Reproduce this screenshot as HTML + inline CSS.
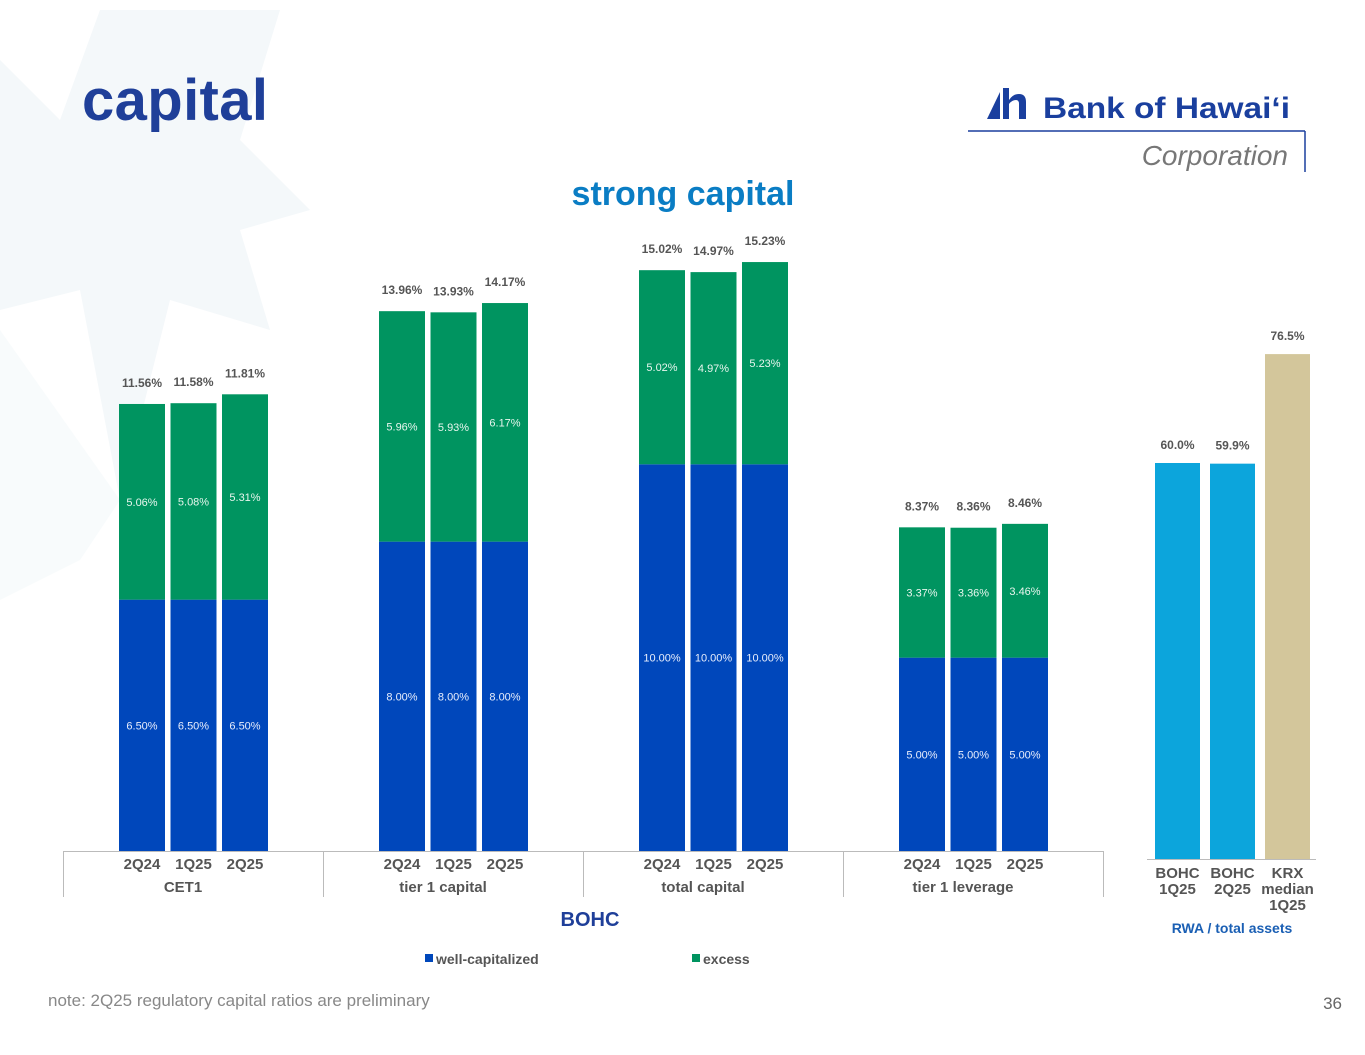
<!DOCTYPE html>
<html><head><meta charset="utf-8"><style>
body{margin:0;width:1365px;height:1055px;background:#fff;overflow:hidden;font-family:"Liberation Sans",Arial,sans-serif}
svg{position:absolute;left:0;top:0}
</style></head><body>
<svg width="1365" height="1055">
<g fill="#f4f8fa">
<polygon points="100,10 280,10 240,140 310,210 240,230 270,330 170,300 120,500 80,290 0,310 0,60 60,120"/>
<polygon points="0,330 120,500 80,560 0,600" opacity="0.6"/>
</g>
<text x="82" y="120" font-size="58" font-weight="bold" fill="#1f3f99" textLength="186">capital</text>
<g>
<polygon points="987,119 1000,92 1000,119" fill="#1a3f9e"/>
<path d="M1003,88 h6 v12 q4,-6 10,-6 q7,0 7,8 v17 h-7 v-15 q0,-4 -3,-4 q-4,0 -7,4 v15 h-6z" fill="#1a3f9e"/>
<text x="1043" y="118" font-size="30" font-weight="bold" fill="#1a3f9e" textLength="247" lengthAdjust="spacingAndGlyphs">Bank of Hawai‘i</text>
<line x1="968" y1="131" x2="1305" y2="131" stroke="#1a3f9e" stroke-width="1.5"/>
<line x1="1305" y1="131" x2="1305" y2="172" stroke="#1a3f9e" stroke-width="1.5"/>
<text x="1288" y="165" text-anchor="end" font-size="28" font-style="italic" fill="#777">Corporation</text>
</g>
<text x="683" y="205" text-anchor="middle" font-size="34" font-weight="bold" fill="#0a7dc4">strong capital</text>
<g id="main"></g>
<g id="rwa"></g>
<text x="590" y="926" text-anchor="middle" font-size="20" font-weight="bold" fill="#1f3f99">BOHC</text>
<g>
<rect x="425" y="954" width="8" height="8" fill="#0047bb"/>
<text x="436" y="964" font-size="14" font-weight="bold" fill="#555">well-capitalized</text>
<rect x="692" y="954" width="8" height="8" fill="#009460"/>
<text x="703" y="964" font-size="14" font-weight="bold" fill="#555">excess</text>
</g>
<text x="1232" y="933" text-anchor="middle" font-size="14" font-weight="bold" fill="#1a5fb4">RWA / total assets</text>
<text x="48" y="1006" font-size="17" fill="#888">note: 2Q25 regulatory capital ratios are preliminary</text>
<text x="1342" y="1009" text-anchor="end" font-size="17" fill="#666">36</text>
</svg>
<script>
const groups=["CET1","tier 1 capital","total capital","tier 1 leverage"];
const periods=["2Q24","1Q25","2Q25"];
const wellCap=[[6.50,6.50,6.50],[8.00,8.00,8.00],[10.00,10.00,10.00],[5.00,5.00,5.00]];
const excess=[[5.06,5.08,5.31],[5.96,5.93,6.17],[5.02,4.97,5.23],[3.37,3.36,3.46]];
const totals=[[11.56,11.58,11.81],[13.96,13.93,14.17],[15.02,14.97,15.23],[8.37,8.36,8.46]];
const rwaCats=[["BOHC","1Q25"],["BOHC","2Q25"],["KRX","median","1Q25"]];
const rwaVals=[60.0,59.9,76.5];
const NS="http://www.w3.org/2000/svg";
function mk(p,t,a,txt){const e=document.createElementNS(NS,t);for(const k in a)e.setAttribute(k,a[k]);if(txt!==undefined)e.textContent=txt;p.appendChild(e);return e;}
const main=document.getElementById('main');
const base=851,ppu=38.67;
const y=v=>base-v*ppu;
const gx=i=>63+i*260;
mk(main,'line',{x1:63,y1:851.5,x2:1103,y2:851.5,stroke:'#bbb'});
for(let i=0;i<=4;i++){const l=mk(main,'line',{x1:gx(i)+0.5,y1:851,x2:gx(i)+0.5,y2:897,stroke:'#bbb'});}
groups.forEach((g,gi)=>{
 const c=gx(gi)+130;
 const t=mk(main,'text',{x:c-10,y:892,'text-anchor':'middle','font-size':15,'font-weight':'bold',fill:'#555'},g);
 
 periods.forEach((p,pi)=>{
  const x=c-74+pi*51.5;
  const w=wellCap[gi][pi],e=excess[gi][pi],tot=totals[gi][pi];
  const b=mk(main,'rect',{x:x,y:y(w),width:46,height:w*ppu,fill:'#0047bb'});
  
  const r=mk(main,'rect',{x:x,y:y(w+e),width:46,height:e*ppu,fill:'#009460'});
  
  mk(main,'text',{x:x+23,y:y(w/2)+4,'text-anchor':'middle','font-size':11,fill:'#e8eefc'},w.toFixed(2)+'%');
  mk(main,'text',{x:x+23,y:y(w+e/2)+4,'text-anchor':'middle','font-size':11,fill:'#e8f6ee'},e.toFixed(2)+'%');
  const tl=mk(main,'text',{x:x+23,y:y(tot)-17,'text-anchor':'middle','font-size':12,'font-weight':'bold',fill:'#555'},tot.toFixed(2)+'%');
  
  const pl=mk(main,'text',{x:x+23,y:869,'text-anchor':'middle','font-size':15,'font-weight':'bold',fill:'#555'},p);
  
 });
});
const rwa=document.getElementById('rwa');
const rb=859,rp=6.6;
mk(rwa,'line',{x1:1147,y1:859.5,x2:1316,y2:859.5,stroke:'#bbb'});
rwaVals.forEach((v,i)=>{
 const x=1155+i*55;
 const b=mk(rwa,'rect',{x:x,y:rb-v*rp,width:45,height:v*rp,fill:i<2?'#0ca5dc':'#d3c69b'});
 
 mk(rwa,'text',{x:x+22.5,y:rb-v*rp-14,'text-anchor':'middle','font-size':12,'font-weight':'bold',fill:'#555'},v.toFixed(1)+'%');
 rwaCats[i].forEach((s,j)=>{mk(rwa,'text',{x:x+22.5,y:878+j*16,'text-anchor':'middle','font-size':15,'font-weight':'bold',fill:'#555'},s);});
});
</script>
</body></html>
